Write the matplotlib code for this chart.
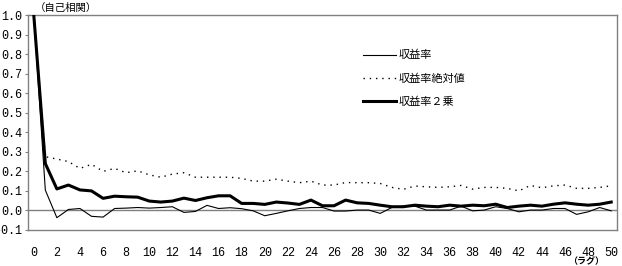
import matplotlib
matplotlib.use("Agg")
import matplotlib.pyplot as plt

lags = list(range(51))
ret = [1.0, 0.104, -0.037, 0.005, 0.01, -0.03, -0.034, 0.01, 0.012, 0.015, 0.012,
       0.015, 0.019, -0.01, -0.005, 0.026, 0.01, 0.014, 0.009, -0.002, -0.027,
       -0.015, -0.002, 0.01, 0.015, 0.015, -0.003, -0.003, 0.002, 0.002, -0.015,
       0.015, 0.022, 0.022, 0.002, 0.002, 0.002, 0.022, -0.002, 0.002, 0.019,
       0.01, -0.007, 0.002, 0.002, 0.01, 0.01, -0.02, -0.007, 0.015, -0.002]
abs_ret = [1.0, 0.275, 0.263, 0.25, 0.215, 0.236, 0.2, 0.215, 0.193, 0.203, 0.182,
           0.17, 0.186, 0.193, 0.17, 0.17, 0.17, 0.17, 0.164, 0.15, 0.15,
           0.16, 0.15, 0.142, 0.15, 0.13, 0.13, 0.143, 0.142, 0.142, 0.138,
           0.118, 0.108, 0.125, 0.121, 0.118, 0.121, 0.128, 0.109, 0.118, 0.118,
           0.113, 0.1, 0.128, 0.116, 0.126, 0.13, 0.113, 0.113, 0.118, 0.126]
sq_ret = [1.0, 0.24, 0.11, 0.13, 0.105, 0.1, 0.062, 0.073, 0.07, 0.068, 0.048,
          0.043, 0.048, 0.063, 0.051, 0.065, 0.075, 0.075, 0.036, 0.036, 0.031,
          0.043, 0.038, 0.031, 0.053, 0.024, 0.024, 0.053, 0.039, 0.036, 0.027,
          0.019, 0.019, 0.027, 0.022, 0.019, 0.027, 0.022, 0.027, 0.024, 0.032,
          0.015, 0.022, 0.027, 0.022, 0.032, 0.039, 0.032, 0.027, 0.032, 0.043]
labels = ["収益率", "収益率絶対値", "収益率２乗"]
xticks = list(range(0, 51, 2))
yticks = [-0.1, 0.0, 0.1, 0.2, 0.3, 0.4, 0.5, 0.6, 0.7, 0.8, 0.9, 1.0]

jp = ["Noto Sans CJK JP", "DejaVu Sans"]
num = "Liberation Mono"

fig = plt.figure(figsize=(6.22, 2.66), dpi=100)
ax = fig.add_axes([28/622, 1-230/266, 589/622, 215/266])

ax.axhline(0, color="#808080", lw=1.0, zorder=1)
ax.plot(lags, ret, color="black", lw=0.8, label=labels[0], zorder=3)
ax.plot(lags, abs_ret, color="black", lw=1.0, ls=(0, (1, 3.5)), label=labels[1], zorder=3)
ax.plot(lags, sq_ret, color="black", lw=2.2, label=labels[2], zorder=4)

ax.set_xlim(-0.5, 50.5)
ax.set_ylim(-0.1, 1.0)
ax.set_xticks(xticks)
ax.set_xticklabels([str(v) for v in xticks], fontfamily=num, fontsize=8.5)
ax.set_yticks(yticks)
ax.set_yticklabels([f"{v:.1f}" for v in yticks], fontfamily=num, fontsize=8.5)
ax.tick_params(axis="x", length=0, pad=12)
ax.tick_params(axis="y", length=2, width=0.8, color="#808080", pad=2)
for s in ax.spines.values():
    s.set_color("#808080")
    s.set_linewidth(1.0)

leg = ax.legend(loc="upper left", bbox_to_anchor=(0.568, 0.837), frameon=False,
                prop={"family": jp, "size": 8}, handlelength=3.0, handletextpad=0.2,
                labelspacing=1.15, borderpad=0, borderaxespad=0)

fig.text(35/622, 1-8/266, "（自己相関）", fontfamily=jp, fontsize=7.5, va="center", ha="left")
fig.text(586/622, 1-262/266, "（ラグ）", fontfamily=jp, fontsize=6.5, va="center", ha="center",
         fontweight="bold")

fig.savefig("out.png", dpi=100)
